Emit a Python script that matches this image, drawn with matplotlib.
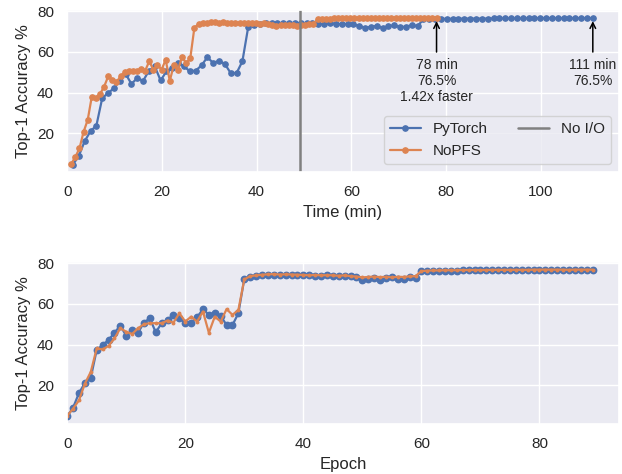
import matplotlib
matplotlib.use('Agg')
import matplotlib.pyplot as plt
import seaborn as sns
import numpy as np

sns.set_theme(style='darkgrid')
plt.rcParams['font.family'] = ['Liberation Sans', 'DejaVu Sans']

# per-epoch top-1 accuracy (%)
pytorch_acc = [4.7, 9.0, 16.2, 21.1, 23.8, 37.3, 39.8, 42.2, 45.8, 49.3,
               44.3, 47.2, 45.8, 50.8, 52.9, 46.0, 50.5, 52.1, 54.6, 52.9,
               50.5, 50.8, 53.4, 57.4, 54.6, 55.7, 54.1, 49.6, 49.6, 55.4,
               72.3, 73.2, 73.8, 74.0, 74.0, 74.2, 74.2, 74.3, 74.2, 74.2,
               74.0, 74.0, 73.6, 73.8, 74.0, 73.9, 73.6, 73.8, 73.5, 73.0,
               71.8, 72.4, 72.8, 71.8, 72.6, 73.2, 72.2, 72.4, 73.2, 72.8,
               76.0, 76.1, 76.2, 76.2, 76.3, 76.3, 76.3, 76.4, 76.4, 76.4,
               76.4, 76.4, 76.5, 76.5, 76.5, 76.5, 76.5, 76.5, 76.6, 76.6,
               76.6, 76.6, 76.6, 76.6, 76.6, 76.5, 76.6, 76.6, 76.6, 76.5]
nopfs_acc = [5.0, 8.5, 12.6, 20.8, 26.6, 38.1, 37.6, 39.3, 43.0, 48.0,
             46.3, 45.2, 48.0, 50.0, 50.5, 50.5, 50.5, 51.8, 50.8, 55.4,
             51.3, 53.7, 51.3, 56.2, 45.8, 53.7, 51.3, 57.4, 54.6, 57.0,
             72.0, 73.6, 74.0, 74.3, 74.5, 74.6, 74.4, 74.5, 74.4, 74.3,
             74.2, 74.0, 74.2, 74.0, 74.1, 74.0, 73.8, 74.0, 73.6, 73.4,
             73.0, 73.2, 73.4, 73.1, 73.3, 73.0, 73.3, 73.2, 73.5, 73.6,
             76.1, 76.3, 76.4, 76.4, 76.5, 76.5, 76.5, 76.6, 76.6, 76.6,
             76.6, 76.6, 76.7, 76.7, 76.7, 76.7, 76.7, 76.7, 76.7, 76.8,
             76.8, 76.8, 76.8, 76.8, 76.8, 76.7, 76.8, 76.8, 76.8, 76.8]

pytorch_total_min = 111
nopfs_total_min = 78
no_io_min = 49.2

epochs = np.arange(len(pytorch_acc))
pytorch_time = (epochs + 1) * pytorch_total_min / len(pytorch_acc)
nopfs_time = (epochs + 1) * nopfs_total_min / len(nopfs_acc)

blue = '#4C72B0'
orange = '#DD8452'

fig, (ax1, ax2) = plt.subplots(2, 1, figsize=(6.22, 4.74), dpi=100)
fig.subplots_adjust(left=0.108, right=0.995, top=0.978, bottom=0.106, hspace=0.56)

# time plot
ax1.plot(pytorch_time, pytorch_acc, '-o', color=blue, lw=1.6, ms=3.8, label='PyTorch')
ax1.plot(nopfs_time, nopfs_acc, '-o', color=orange, lw=1.6, ms=3.8, label='NoPFS')
ax1.axvline(no_io_min, color='gray', lw=1.8, label='No I/O')
ax1.set_xlim(left=0)
ax1.set_xlabel('Time (min)')
ax1.set_ylabel('Top-1 Accuracy %')
ax1.set_yticks([20, 40, 60, 80])

ax1.annotate('78 min\n76.5%\n1.42x faster', xy=(78, 76.5), xytext=(78, 57),
             ha='center', va='top', fontsize=10,
             arrowprops=dict(arrowstyle='->', color='black', lw=1.1))
ax1.annotate('111 min\n76.5%', xy=(111, 76.5), xytext=(111, 57),
             ha='center', va='top', fontsize=10,
             arrowprops=dict(arrowstyle='->', color='black', lw=1.1))

ax1.legend(loc='lower right', ncol=2)

# epoch plot
ax2.plot(epochs, pytorch_acc, '-o', color=blue, lw=1.6, ms=4.6)
ax2.plot(epochs, nopfs_acc, '-o', color=orange, lw=1.6, ms=1.8)
ax2.set_xlim(left=0)
ax2.set_xlabel('Epoch')
ax2.set_ylabel('Top-1 Accuracy %')
ax2.set_yticks([20, 40, 60, 80])

fig.savefig('out.png', dpi=100)
